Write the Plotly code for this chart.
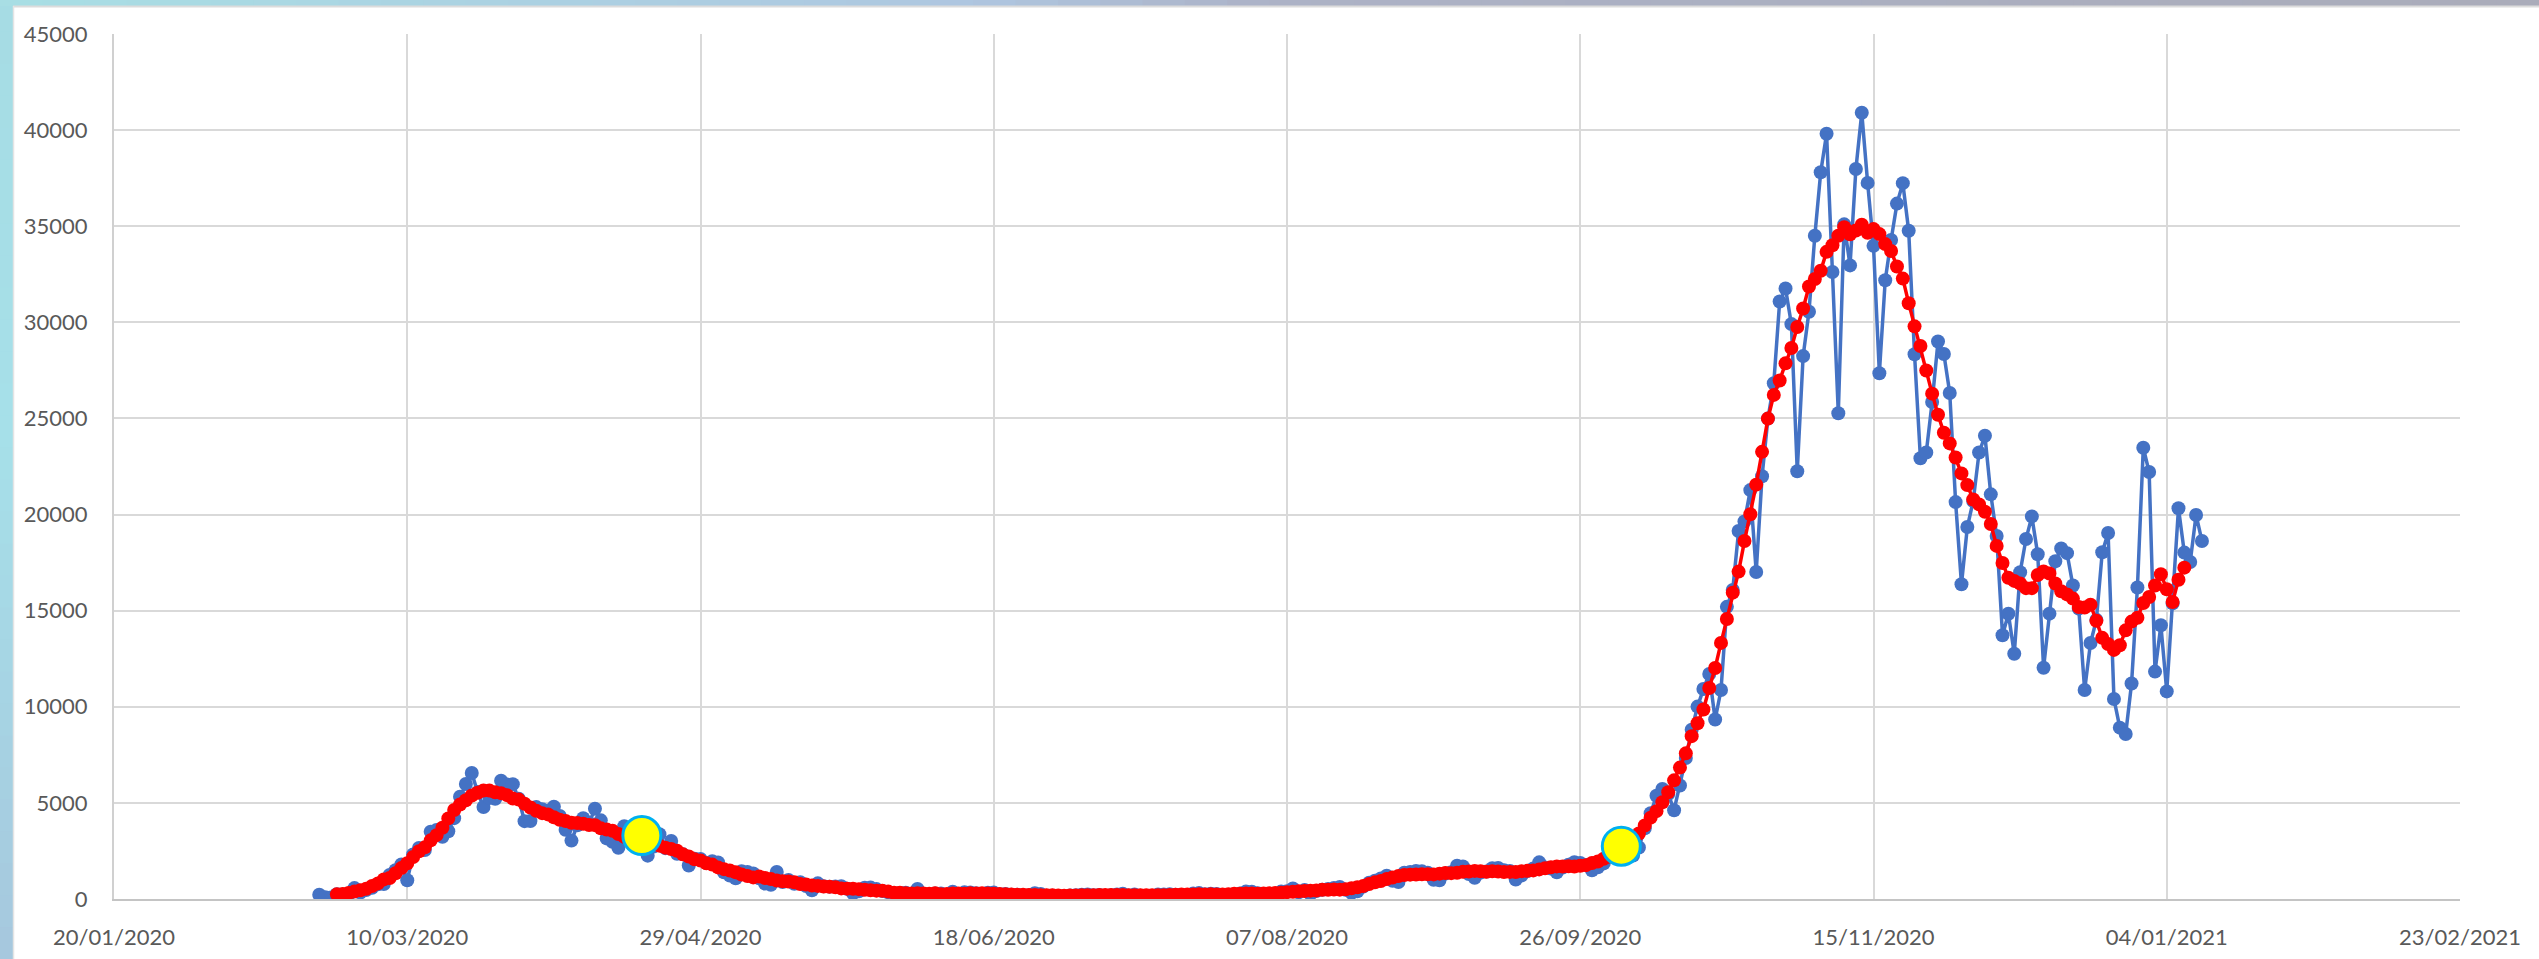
import pandas as pd
import plotly.graph_objects as go

# ---------------- data: daily new cases (blue) ----------------
daily_feb_2020 = [221, 93, 78, 250, 238, 240]  # from 24/02/2020
daily_mar_2020 = [566, 342, 466, 587, 769, 778, 1247, 1492, 1797, 977, 2313, 2651, 2547, 3497, 3590, 3233,
                  3526, 4207, 5322, 5986, 6557, 5560, 4789, 5249, 5210, 6153, 5959, 5974, 5217, 4050, 4053]
daily_apr_2020 = [4782, 4668, 4585, 4805, 4316, 3599, 3039, 3836, 4204, 3951, 4694, 4092, 3153, 2972, 2667,
                  3786, 3493, 3491, 3047, 2256, 2729, 3370, 2646, 3021, 2357, 2324, 1739, 2091, 2086, 1872]
daily_may_2020 = [1965, 1900, 1389, 1221, 1075, 1444, 1401, 1327, 1083, 802, 744, 1402, 888, 992, 789, 875,
                  675, 451, 813, 665, 642, 652, 669, 531, 300, 397, 584, 593, 516, 416, 355]
daily_jun_2020 = [178, 318, 321, 177, 518, 270, 197, 280, 283, 202, 379, 163, 346, 338, 301, 210, 329, 333,
                  251, 262, 224, 218, 122, 190, 296, 259, 175, 174, 126, 142]
daily_jul_2020 = [187, 201, 223, 235, 192, 208, 138, 193, 229, 276, 188, 234, 169, 114, 162, 230, 233, 249,
                  219, 190, 129, 282, 306, 252, 275, 255, 170, 181, 212, 289, 386]
daily_aug_2020 = [379, 295, 239, 159, 190, 384, 402, 552, 347, 463, 259, 412, 481, 523, 574, 629, 479, 320,
                  403, 642, 845, 947, 1071, 1210, 953, 878, 1367, 1411, 1460, 1444, 1365]
daily_sep_2020 = [996, 978, 1326, 1397, 1733, 1695, 1297, 1108, 1370, 1434, 1597, 1616, 1501, 1458, 1008,
                  1229, 1452, 1585, 1907, 1638, 1587, 1392, 1640, 1786, 1912, 1869, 1766, 1494, 1648, 1851]
daily_oct_2020 = [2548, 2499, 2844, 2578, 2257, 2677, 3678, 4458, 5372, 5724, 5456, 4619, 5901, 7332, 8804,
                  10010, 10925, 11705, 9338, 10874, 15199, 16079, 19143, 19644, 21273, 17012, 21994, 24991,
                  26831, 31084, 31758]
daily_nov_2020 = [29907, 22253, 28244, 30550, 34505, 37809, 39811, 32616, 25271, 35098, 32961, 37978, 40902,
                  37255, 33979, 27354, 32191, 34283, 36176, 37242, 34767, 28337, 22930, 23232, 25853, 29003,
                  28352, 26323, 20648, 16377]
daily_dec_2020 = [19350, 20709, 23225, 24099, 21052, 18887, 13720, 14842, 12756, 16999, 18727, 19903, 17938,
                  12030, 14844, 17572, 18236, 17992, 16308, 15104, 10872, 13318, 14522, 18040, 19037, 10407,
                  8913, 8585, 11212, 16202, 23477]
daily_jan_2021 = [22211, 11831, 14245, 10800, 15378, 20331, 18020, 17533, 19978, 18627]

# ---------------- data: 7-day average (red) ----------------
avg_feb_2020 = [241, 258, 311]  # from 27/02/2020
avg_mar_2020 = [384, 458, 535, 679, 812, 1019, 1092, 1339, 1608, 1861, 2182, 2482, 2687, 3051, 3322, 3703,
                4194, 4632, 4913, 5135, 5381, 5525, 5643, 5640, 5556, 5507, 5402, 5231, 5170, 4958, 4761]
avg_apr_2020 = [4594, 4466, 4401, 4256, 4121, 4055, 3964, 3948, 3916, 3853, 3843, 3676, 3616, 3551, 3379,
                3230, 3102, 3067, 3167, 3005, 2937, 2775, 2672, 2598, 2507, 2323, 2213, 2062, 1997, 1863]
avg_may_2020 = [1789, 1644, 1552, 1485, 1394, 1277, 1193, 1125, 1172, 1092, 1034, 957, 927, 909, 867, 783,
                751, 701, 682, 652, 632, 610, 551, 539, 532, 513, 477, 452, 434, 423, 385]
avg_jun_2020 = [326, 326, 305, 283, 297, 292, 275, 304, 253, 264, 284, 287, 277, 295, 289, 301, 289, 273,
                261, 248, 229, 223, 224, 212, 205, 192, 195, 194, 181, 175]
avg_jul_2020 = [184, 187, 198, 198, 199, 203, 210, 203, 209, 204, 200, 196, 196, 190, 199, 197, 200, 202,
                219, 230, 232, 236, 241, 238, 246, 236, 233, 253, 267, 273, 283]
avg_aug_2020 = [280, 277, 290, 293, 317, 325, 357, 371, 403, 417, 434, 437, 477, 480, 488, 487, 510, 556,
                609, 672, 777, 867, 935, 1039, 1120, 1193, 1246, 1268, 1274, 1289, 1283]
avg_sep_2020 = [1281, 1320, 1356, 1346, 1362, 1418, 1433, 1462, 1445, 1418, 1441, 1426, 1406, 1409, 1407,
                1449, 1468, 1487, 1541, 1600, 1648, 1695, 1689, 1707, 1694, 1731, 1761, 1870, 1954, 2093]
avg_oct_2020 = [2209, 2318, 2465, 2726, 2999, 3409, 3821, 4232, 4569, 5030, 5552, 6173, 6835, 7578, 8471,
                9145, 9855, 10979, 12019, 13323, 14569, 15936, 17032, 18621, 20019, 21555, 23261, 24992,
                26225, 26974, 27867]
avg_nov_2020 = [28661, 29757, 30718, 31868, 32255, 32687, 33666, 34010, 34506, 34948, 34583, 34778, 35075,
                34660, 34849, 34591, 34069, 33713, 32907, 32275, 30995, 29791, 28766, 27496, 26290, 25192,
                24255, 23701, 22966, 22141]
avg_dec_2020 = [21533, 20780, 20528, 20149, 19505, 18369, 17479, 16712, 16548, 16412, 16171, 16171, 16859,
                17036, 16931, 16417, 16012, 15847, 15629, 15193, 15165, 15314, 14471, 13587, 13260, 12959,
                13199, 13976, 14430, 14633, 15395]
avg_jan_2021 = [15711, 16306, 16896, 16117, 15448, 16612, 17238]

# ---------------- data: highlighted points (yellow) ----------------
highlight_dates = ["2020-04-19", "2020-10-03"]
highlight_values = [3300, 2750]

daily_months = [("2020-02-24", daily_feb_2020), ("2020-03-01", daily_mar_2020), ("2020-04-01", daily_apr_2020),
                ("2020-05-01", daily_may_2020), ("2020-06-01", daily_jun_2020), ("2020-07-01", daily_jul_2020),
                ("2020-08-01", daily_aug_2020), ("2020-09-01", daily_sep_2020), ("2020-10-01", daily_oct_2020),
                ("2020-11-01", daily_nov_2020), ("2020-12-01", daily_dec_2020), ("2021-01-01", daily_jan_2021)]
avg_months = [("2020-02-27", avg_feb_2020), ("2020-03-01", avg_mar_2020), ("2020-04-01", avg_apr_2020),
              ("2020-05-01", avg_may_2020), ("2020-06-01", avg_jun_2020), ("2020-07-01", avg_jul_2020),
              ("2020-08-01", avg_aug_2020), ("2020-09-01", avg_sep_2020), ("2020-10-01", avg_oct_2020),
              ("2020-11-01", avg_nov_2020), ("2020-12-01", avg_dec_2020), ("2021-01-01", avg_jan_2021)]


def expand(months):
    xs, ys = [], []
    for start, vals in months:
        xs.extend(pd.date_range(start, periods=len(vals), freq="D"))
        ys.extend(vals)
    return xs, ys


dx, dy = expand(daily_months)
ax, ay = expand(avg_months)

fig = go.Figure()
fig.add_trace(go.Scatter(x=dx, y=dy, mode="lines+markers",
                         line=dict(color="#4472C4", width=3.5),
                         marker=dict(color="#4472C4", size=14), showlegend=False))
fig.add_trace(go.Scatter(x=ax, y=ay, mode="lines+markers",
                         line=dict(color="#FF0000", width=3.5),
                         marker=dict(color="#FF0000", size=14), showlegend=False))
fig.add_trace(go.Scatter(x=pd.to_datetime(highlight_dates), y=highlight_values, mode="markers",
                         marker=dict(color="#FFFF00", size=38, line=dict(color="#00B0F0", width=3)),
                         showlegend=False))

# ---------------- decorative page frame ----------------
W, H = 2539, 959
ML, MR, MT, MB = 114, 79, 34, 60
PW, PH = W - ML - MR, H - MT - MB


def px(x):
    return (x - ML) / PW


def py(y):
    return (H - MB - y) / PH


def lerp_color(stops, t):
    for i in range(len(stops) - 1):
        t0, c0 = stops[i]
        t1, c1 = stops[i + 1]
        if t0 <= t <= t1:
            f = (t - t0) / (t1 - t0) if t1 > t0 else 0
            c = [round(c0[k] + (c1[k] - c0[k]) * f) for k in range(3)]
            return "rgb(%d,%d,%d)" % tuple(c)
    c = stops[-1][1]
    return "rgb(%d,%d,%d)" % tuple(c)


shapes = []
left_stops = [(0, (166, 220, 228)), (0.45, (166, 224, 233)), (1.0, (166, 200, 222))]
nseg = 30
for i in range(nseg):
    y0 = H * i / nseg
    y1 = H * (i + 1) / nseg + 1
    shapes.append(dict(type="rect", xref="paper", yref="paper", x0=px(0), x1=px(13), y0=py(y1), y1=py(y0),
                       fillcolor=lerp_color(left_stops, i / (nseg - 1)), line=dict(width=0), layer="below"))
top_stops = [(0, (168, 222, 228)), (0.38, (174, 198, 224)), (0.5, (172, 178, 198)), (1.0, (170, 172, 186))]
nseg = 60
for i in range(nseg):
    x0 = W * i / nseg
    x1 = W * (i + 1) / nseg + 1
    shapes.append(dict(type="rect", xref="paper", yref="paper", x0=px(x0), x1=px(x1), y0=py(6), y1=py(0),
                       fillcolor=lerp_color(top_stops, i / (nseg - 1)), line=dict(width=0), layer="below"))
shapes.append(dict(type="line", xref="paper", yref="paper", x0=px(13), x1=px(W), y0=py(6.5), y1=py(6.5),
                   line=dict(color="#DCDCDC", width=2), layer="below"))
shapes.append(dict(type="line", xref="paper", yref="paper", x0=px(13.5), x1=px(13.5), y0=py(H), y1=py(6),
                   line=dict(color="#E4E4E4", width=1.5), layer="below"))

axis_font = dict(family="Lato, 'Open Sans', sans-serif", size=22, color="#595959")

fig.update_layout(
    width=W, height=H,
    margin=dict(l=ML, r=MR, t=MT, b=MB, pad=0, autoexpand=False),
    paper_bgcolor="white", plot_bgcolor="white",
    shapes=shapes,
    xaxis=dict(type="date", range=["2020-01-20", "2021-02-23"], tick0="2020-01-20",
               dtick=50 * 86400000, tickformat="%d/%m/%Y",
               showgrid=True, gridcolor="#D9D9D9", gridwidth=2,
               showline=True, linecolor="#C4C4C4", linewidth=2,
               zeroline=False, ticks="", tickfont=axis_font, ticklabelstandoff=18, automargin=False),
    yaxis=dict(range=[0, 45000], dtick=5000, tick0=0, tickformat="d",
               showgrid=True, gridcolor="#D9D9D9", gridwidth=2,
               showline=True, linecolor="#D0D0D0", linewidth=2,
               zeroline=False, ticks="", tickfont=axis_font, ticklabelstandoff=20, automargin=False),
    hovermode=False,
)

fig.write_html("out.html", config={"displayModeBar": False, "staticPlot": True},
               post_script="document.body.style.margin='0';document.body.style.overflow='hidden';")
